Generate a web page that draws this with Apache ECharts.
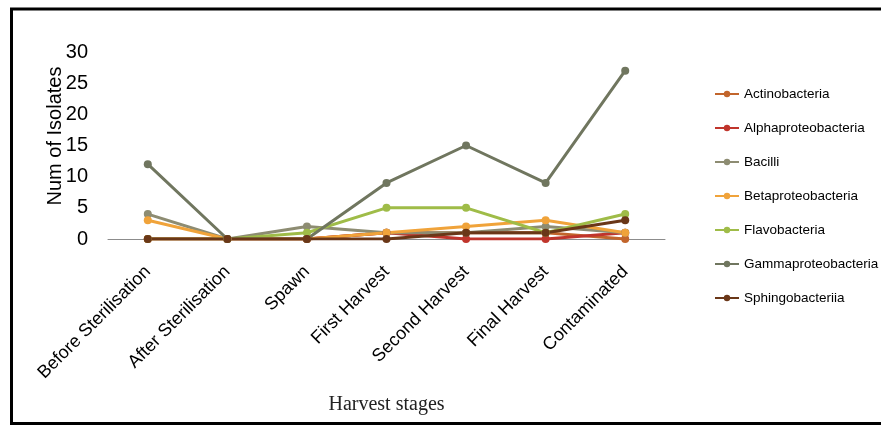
<!DOCTYPE html>
<html>
<head>
<meta charset="utf-8">
<script src="https://cdn.jsdelivr.net/npm/echarts@6/dist/echarts.min.js"></script>
<style>
  html, body { margin: 0; padding: 0; background: #fff; }
  #chart { width: 881px; height: 426px; }
</style>
</head>
<body>
<div id="chart"></div>
<script>
// Harvest stages along the x axis
const stages = ['Before Sterilisation', 'After Sterilisation', 'Spawn', 'First Harvest',
                'Second Harvest', 'Final Harvest', 'Contaminated'];

// Number of isolates per bacterial class at each stage
const actinobacteria      = [0, 0, 0, 1, 1, 1, 0];
const alphaproteobacteria = [0, 0, 0, 1, 0, 0, 1];
const bacilli             = [4, 0, 2, 1, 1, 2, 1];
const betaproteobacteria  = [3, 0, 0, 1, 2, 3, 1];
const flavobacteria       = [0, 0, 1, 5, 5, 1, 4];
const gammaproteobacteria = [12, 0, 0, 9, 15, 9, 27];
const sphingobacteriia    = [0, 0, 0, 0, 1, 1, 3];

const yTicks = { min: 0, max: 30, interval: 5 };

const seriesDefs = [
  { name: 'Actinobacteria',      data: actinobacteria,      color: '#c2652c' },
  { name: 'Alphaproteobacteria', data: alphaproteobacteria, color: '#c0352c' },
  { name: 'Bacilli',             data: bacilli,             color: '#8d8c72' },
  { name: 'Betaproteobacteria',  data: betaproteobacteria,  color: '#f0a33a' },
  { name: 'Flavobacteria',       data: flavobacteria,       color: '#9fbc48' },
  { name: 'Gammaproteobacteria', data: gammaproteobacteria, color: '#70765f' },
  { name: 'Sphingobacteriia',    data: sphingobacteriia,    color: '#6a3718' }
];

const chart = echarts.init(document.getElementById('chart'), null, { renderer: 'canvas' });

chart.setOption({
  animation: false,
  backgroundColor: '#ffffff',
  grid: { left: 108, right: 216, top: 52, bottom: 187 },
  graphic: [
    {
      type: 'rect',
      shape: { x: 11.5, y: 9, width: 900, height: 414.5 },
      style: { fill: 'none', stroke: '#000', lineWidth: 3 },
      silent: true
    },
    {
      // y-axis title
      type: 'text',
      x: 55,
      y: 136,
      rotation: Math.PI / 2,
      style: {
        text: 'Num of Isolates',
        fontFamily: 'Liberation Sans, Arial, sans-serif',
        fontSize: 20,
        fill: '#000',
        align: 'center',
        verticalAlign: 'middle'
      },
      silent: true
    }
  ],
  legend: {
    orient: 'vertical',
    left: 709,
    top: 82,
    itemWidth: 24,
    itemHeight: 8,
    itemGap: 20,
    textStyle: { fontFamily: 'Liberation Sans, Arial, sans-serif', fontSize: 13.5, color: '#000' },
    data: seriesDefs.map(s => s.name)
  },
  xAxis: {
    type: 'category',
    data: stages,
    boundaryGap: true,
    name: 'Harvest stages',
    nameLocation: 'middle',
    nameGap: 156,
    nameTextStyle: { fontFamily: 'Liberation Serif, Times New Roman, serif', fontSize: 20, color: '#222' },
    axisLine: { show: true, lineStyle: { color: '#8c8c8c', width: 1 } },
    axisTick: { show: false },
    axisLabel: {
      rotate: 45,
      margin: 30,
      interval: 0,
      fontFamily: 'Liberation Sans, Arial, sans-serif',
      fontSize: 18,
      color: '#000'
    },
    splitLine: { show: false }
  },
  yAxis: {
    type: 'value',
    min: yTicks.min,
    max: yTicks.max,
    interval: yTicks.interval,
    axisLine: { show: false },
    axisTick: { show: false },
    splitLine: { show: false },
    axisLabel: {
      margin: 20,
      fontFamily: 'Liberation Sans Narrow, Arial Narrow, Liberation Sans, sans-serif',
      fontSize: 20,
      color: '#000'
    }
  },
  series: seriesDefs.map(s => ({
    name: s.name,
    type: 'line',
    data: s.data,
    symbol: 'circle',
    symbolSize: 8,
    color: s.color,
    lineStyle: { width: 3, color: s.color },
    itemStyle: { color: s.color },
    z: 2
  }))
});
</script>
</body>
</html>
